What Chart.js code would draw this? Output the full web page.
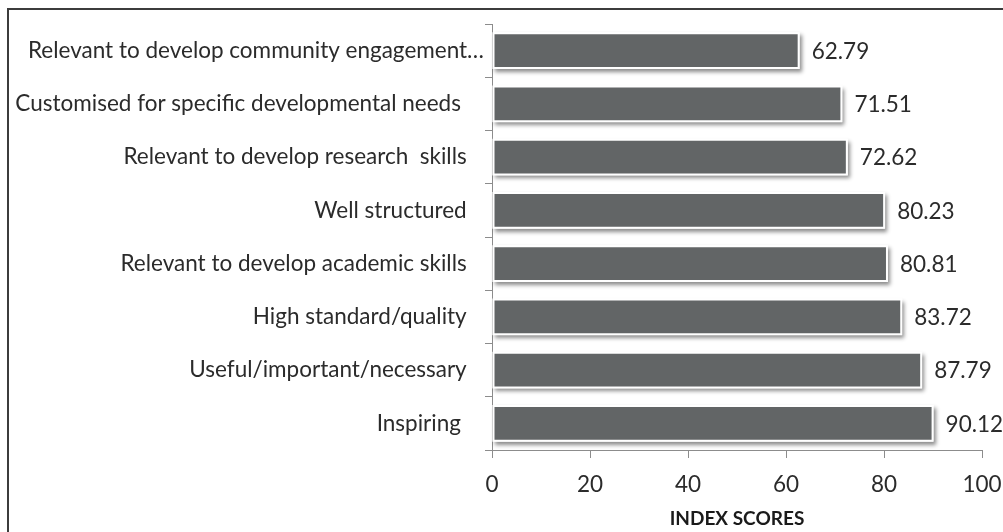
<!DOCTYPE html>
<html>
<head>
<meta charset="utf-8">
<script src="https://cdn.jsdelivr.net/npm/chart.js@4/dist/chart.umd.min.js"></script>
<style>
  html, body { margin: 0; padding: 0; background: #fff; overflow: hidden; }
  #wrap { position: relative; width: 1003px; height: 532px; }
  #frame {
    position: absolute; left: 7px; top: 8px; width: 1100px; height: 600px;
    border: 2px solid #3c3c3c; box-sizing: border-box; pointer-events: none;
  }
  canvas { position: absolute; left: 0; top: 0; }
</style>
</head>
<body>
<div id="wrap">
  <canvas id="chart" width="1003" height="532"></canvas>
  <div id="frame"></div>
</div>
<script>
// Perception items (trailing spaces keep the label spacing used in the original layout)
const categories = [
  'Relevant to develop community engagement\u2026',
  'Customised for specific developmental needs    ',
  'Relevant to develop research  skills   ',
  'Well structured   ',
  'Relevant to develop academic skills   ',
  'High standard/quality   ',
  'Useful/important/necessary   ',
  'Inspiring    '
];
const indexScores = [62.79, 71.51, 72.62, 80.23, 80.81, 83.72, 87.79, 90.12];
const xTicks = [0, 20, 40, 60, 80, 100];
const axisTitle = 'INDEX SCORES';

const FONT = 'Lato';
const SIZE = 22.5;
const TEXT = '#2b2b2b';

// Soft drop shadow behind each bar
const barShadow = {
  id: 'barShadow',
  beforeDatasetsDraw(chart) {
    const ctx = chart.ctx;
    const meta = chart.getDatasetMeta(0);
    ctx.save();
    ctx.shadowColor = 'rgba(0,0,0,0.45)';
    ctx.shadowBlur = 4;
    ctx.shadowOffsetX = 2;
    ctx.shadowOffsetY = 3;
    ctx.fillStyle = '#ffffff';
    meta.data.forEach(el => {
      const p = el.getProps(['x', 'y', 'base', 'height'], true);
      ctx.fillRect(p.base, p.y - p.height / 2, p.x - p.base, p.height);
    });
    ctx.restore();
  }
};

// Value labels to the right of each bar
const valueLabels = {
  id: 'valueLabels',
  afterDatasetsDraw(chart) {
    const ctx = chart.ctx;
    const meta = chart.getDatasetMeta(0);
    const values = chart.data.datasets[0].data;
    ctx.save();
    ctx.font = SIZE + 'px ' + FONT;
    ctx.fillStyle = TEXT;
    ctx.textAlign = 'left';
    ctx.textBaseline = 'middle';
    meta.data.forEach((el, i) => {
      const p = el.getProps(['x', 'y'], true);
      ctx.fillText(values[i].toFixed(2), p.x + 12, p.y + 1);
    });
    ctx.restore();
  }
};

new Chart(document.getElementById('chart'), {
  type: 'bar',
  data: {
    labels: categories,
    datasets: [{
      data: indexScores,
      backgroundColor: '#626566',
      borderColor: '#ffffff',
      borderWidth: 2,
      borderSkipped: false,
      barPercentage: 0.69,
      categoryPercentage: 1.0
    }]
  },
  options: {
    indexAxis: 'y',
    responsive: false,
    animation: false,
    devicePixelRatio: 1,
    layout: { padding: { top: 24, right: 21, left: 0, bottom: 0 } },
    plugins: {
      legend: { display: false },
      tooltip: { enabled: false }
    },
    scales: {
      x: {
        min: 0, max: 100,
        afterBuildTicks(scale) { scale.ticks = xTicks.map(v => ({ value: v })); },
        afterFit(scale) {
          scale.height = 82;
          scale.paddingLeft = 0;
          scale.paddingRight = 0;
        },
        border: { display: true, color: '#8c8c8c', width: 1 },
        grid: { display: true, drawOnChartArea: false, drawTicks: true, tickLength: 8, color: '#8c8c8c' },
        ticks: { color: TEXT, padding: 13, font: { family: FONT, size: SIZE }, maxRotation: 0 },
        title: {
          display: true, text: axisTitle, color: '#1a1a1a',
          font: { family: FONT, size: 19, weight: 'bold' },
          padding: { top: 0, bottom: 2 }
        }
      },
      y: {
        afterFit(scale) { scale.width = 492; },
        border: { display: true, color: '#8c8c8c', width: 1 },
        grid: { display: true, drawOnChartArea: false, drawTicks: true, tickLength: 7, color: '#8c8c8c', offset: true },
        ticks: { color: TEXT, padding: 1, font: { family: FONT, size: SIZE }, autoSkip: false }
      }
    }
  },
  plugins: [barShadow, valueLabels]
});
</script>
</body>
</html>
